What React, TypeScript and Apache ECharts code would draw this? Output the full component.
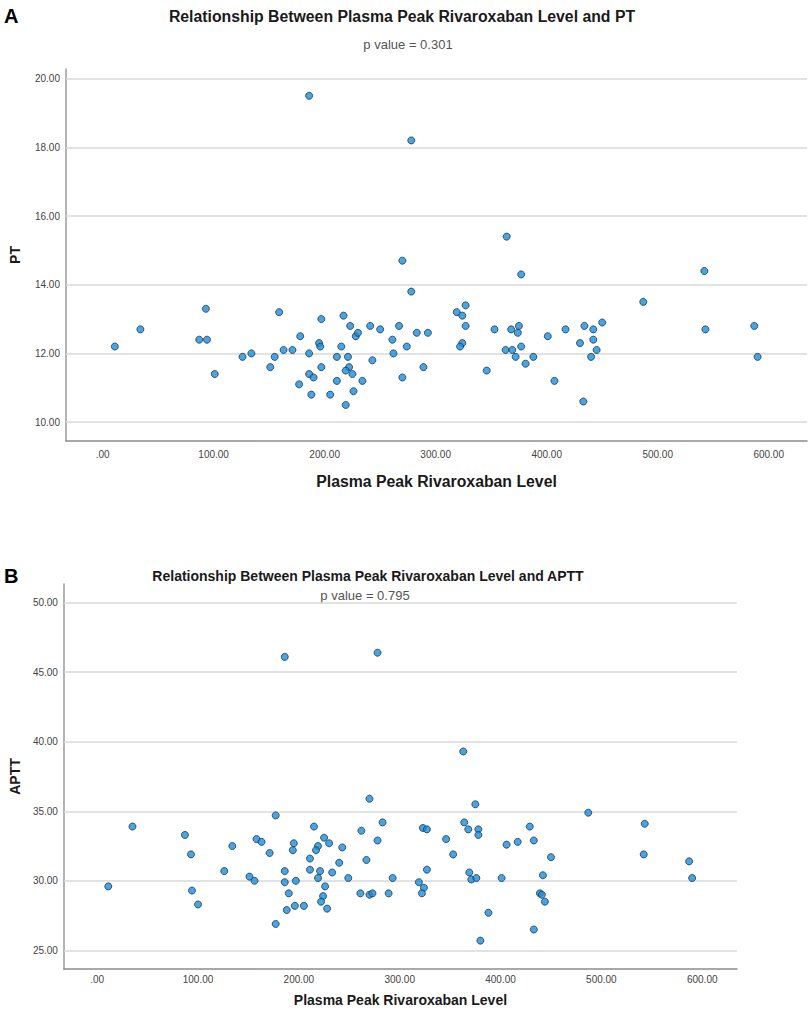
import React, { useEffect, useRef } from "react";
import * as echarts from "echarts";

// Plasma peak rivaroxaban level (shared by both panels)
const ptX = [186, 278, 270, 278, 93, 34, 11, 87, 94, 101, 126, 134, 159, 151, 155, 163, 171, 178, 177, 186, 186, 190, 188, 197, 195, 196, 197, 205, 217, 215, 211, 211, 219, 223, 221, 222, 219, 225, 226, 228, 230, 234, 241, 243, 250, 261, 262, 267, 270, 274, 283, 293, 289, 364, 377, 542, 487, 327, 319, 324, 327, 324, 322, 353, 368, 375, 374, 363, 369, 377, 372, 381, 388, 346, 401, 407, 417, 434, 442, 430, 442, 445, 440, 450, 433, 543, 587, 590];
const ptY = [19.5, 18.2, 14.7, 13.8, 13.3, 12.7, 12.2, 12.4, 12.4, 11.4, 11.9, 12.0, 13.2, 11.6, 11.9, 12.1, 12.1, 12.5, 11.1, 12.0, 11.4, 11.3, 10.8, 13.0, 12.3, 12.2, 11.6, 10.8, 13.1, 12.2, 11.9, 11.2, 10.5, 12.8, 11.9, 11.6, 11.5, 11.4, 10.9, 12.5, 12.6, 11.2, 12.8, 11.8, 12.7, 12.4, 12.0, 12.8, 11.3, 12.2, 12.6, 12.6, 11.6, 15.4, 14.3, 14.4, 13.5, 13.4, 13.2, 13.1, 12.8, 12.3, 12.2, 12.7, 12.7, 12.8, 12.6, 12.1, 12.1, 12.2, 11.9, 11.7, 11.9, 11.5, 12.5, 11.2, 12.7, 12.8, 12.7, 12.3, 12.4, 12.1, 11.9, 12.9, 10.6, 12.7, 12.8, 11.9];

const apttX = [186, 278, 270, 177, 35, 11, 87, 93, 94, 100, 126, 134, 151, 156, 158, 163, 171, 177, 186, 186, 190, 188, 195, 194, 197, 196, 205, 215, 225, 219, 217, 230, 211, 211, 221, 219, 226, 224, 222, 228, 233, 240, 243, 249, 262, 267, 261, 270, 273, 283, 278, 289, 293, 323, 327, 327, 319, 324, 322, 363, 375, 364, 368, 378, 378, 346, 353, 369, 371, 376, 388, 380, 401, 406, 417, 429, 433, 450, 442, 439, 441, 444, 433, 487, 543, 542, 587, 590];
const apttY = [46.1, 46.4, 35.9, 34.7, 33.9, 29.6, 33.3, 31.9, 29.3, 28.3, 30.7, 32.5, 30.3, 30.0, 33.0, 32.8, 32.0, 26.9, 30.7, 29.9, 29.1, 27.9, 32.7, 32.2, 30.0, 28.2, 28.2, 33.9, 33.1, 32.5, 32.2, 32.7, 31.6, 30.8, 30.7, 30.2, 29.6, 28.9, 28.5, 28.0, 30.6, 31.3, 32.4, 30.2, 33.6, 31.5, 29.1, 29.0, 29.1, 34.2, 32.9, 29.1, 30.2, 33.8, 33.7, 30.8, 29.9, 29.5, 29.1, 39.3, 35.5, 34.2, 33.7, 33.7, 33.3, 33.0, 31.9, 30.6, 30.1, 30.2, 27.7, 25.7, 30.2, 32.6, 32.8, 33.9, 32.9, 31.7, 30.4, 29.1, 29.0, 28.5, 26.5, 34.9, 34.1, 31.9, 31.4, 30.2];

const xTicks = [0, 100, 200, 300, 400, 500, 600];
const ptTicks = [10, 12, 14, 16, 18, 20];
const apttTicks = [25, 30, 35, 40, 45, 50];
const xRange = [-33, 634.5];
const ptRange = [9.45, 20.28];
const apttRange = [23.66, 51.34];

const titleA = "Relationship Between Plasma Peak Rivaroxaban Level and PT";
const titleB = "Relationship Between Plasma Peak Rivaroxaban Level and APTT";
const pA = "p value = 0.301";
const pB = "p value = 0.795";
const xName = "Plasma Peak Rivaroxaban Level";

const FONT = "'Liberation Sans', Arial, sans-serif";

export default function App() {
  const ref = useRef<HTMLDivElement>(null);

  useEffect(() => {
    document.body.style.margin = "0";
    const chart = echarts.init(ref.current as HTMLDivElement, null, { renderer: "svg" });

    const xAxis = (gi: number, nameGap: number, nameSize: number, labelMargin: number) => ({
      type: "value",
      gridIndex: gi,
      min: xRange[0],
      max: xRange[1],
      name: xName,
      nameLocation: "middle",
      nameGap,
      nameTextStyle: { fontFamily: FONT, fontWeight: "bold", fontSize: nameSize, color: "#1a1a1a" },
      axisLine: { show: true, onZero: false, lineStyle: { color: "#8c8c8c", width: 1.5 } },
      axisTick: { show: false },
      splitLine: { show: false },
      axisLabel: {
        customValues: xTicks,
        formatter: (v: number) => (v === 0 ? ".00" : v.toFixed(2)),
        fontFamily: FONT,
        fontSize: 10,
        color: "#444",
        margin: labelMargin,
      },
    });

    const yAxis = (gi: number, range: number[], ticks: number[], name: string, nameGap: number) => ({
      type: "value",
      gridIndex: gi,
      min: range[0],
      max: range[1],
      name,
      nameLocation: "middle",
      nameGap,
      nameRotate: 90,
      nameTextStyle: { fontFamily: FONT, fontWeight: "bold", fontSize: 14, color: "#1a1a1a" },
      axisLine: { show: true, onZero: false, lineStyle: { color: "#9a9a9a", width: 1.5 } },
      axisTick: { show: false },
      splitLine: { show: false },
      axisLabel: {
        customValues: ticks,
        formatter: (v: number) => v.toFixed(2),
        fontFamily: FONT,
        fontSize: 10,
        color: "#444",
        margin: 6,
      },
    });

    const gridSeries = (gi: number, ticks: number[]) => ({
      type: "scatter",
      xAxisIndex: gi,
      yAxisIndex: gi,
      data: [],
      silent: true,
      z: 1,
      markLine: {
        silent: true,
        symbol: ["none", "none"],
        label: { show: false },
        lineStyle: { color: "#d9d9d9", width: 1.5, type: "solid" },
        emphasis: { disabled: true },
        data: ticks.map((v) => ({ yAxis: v })),
      },
    });

    const pointSeries = (gi: number, xs: number[], ys: number[]) => ({
      type: "scatter",
      xAxisIndex: gi,
      yAxisIndex: gi,
      z: 5,
      symbol: "circle",
      symbolSize: 7,
      itemStyle: { color: "#1a8fdc", borderColor: "#1d3650", borderWidth: 1 },
      emphasis: { disabled: true },
      data: xs.map((x, i) => [x, ys[i]]),
    });

    const txt = (text: string, x: number, y: number, size: number, bold: boolean, color: string, align = "center") => ({
      type: "text",
      x,
      y,
      silent: true,
      style: {
        text,
        fill: color,
        font: `${bold ? "bold " : ""}${size}px ${FONT}`,
        align,
        verticalAlign: "middle",
      },
    });

    chart.setOption({
      animation: false,
      backgroundColor: "#ffffff",
      grid: [
        { left: 64, top: 69, width: 743, height: 372 },
        { left: 57, top: 584, width: 680, height: 385 },
      ],
      xAxis: [xAxis(0, 32, 15.8, 8), xAxis(1, 24, 14, 5)],
      yAxis: [
        yAxis(0, ptRange, ptTicks, "PT", 44),
        yAxis(1, apttRange, apttTicks, "APTT", 37),
      ],
      series: [
        gridSeries(0, ptTicks),
        gridSeries(1, apttTicks),
        pointSeries(0, ptX, ptY),
        pointSeries(1, apttX, apttY),
      ],
      graphic: [
        txt("A", 4, 16, 20, true, "#000", "left"),
        txt(titleA, 402, 16, 15.8, true, "#1a1a1a"),
        txt(pA, 408, 44, 13, false, "#555"),
        txt("B", 4, 576, 20, true, "#000", "left"),
        txt(titleB, 368, 576, 14, true, "#1a1a1a"),
        txt(pB, 365, 595, 13, false, "#555"),
      ],
    });

    return () => chart.dispose();
  }, []);

  return <div ref={ref} style={{ width: 809, height: 1014 }} />;
}
